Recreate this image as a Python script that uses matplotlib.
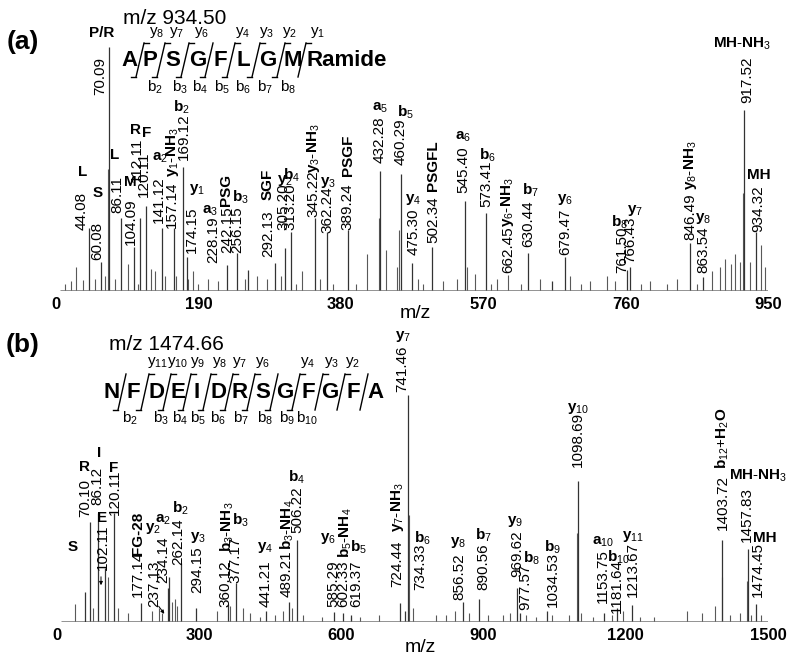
import re
import matplotlib
matplotlib.use('Agg')
import matplotlib.pyplot as plt

plt.rcParams['font.family'] = ['Liberation Sans', 'DejaVu Sans']
plt.rcParams['mathtext.fontset'] = 'custom'
plt.rcParams['mathtext.rm'] = 'Liberation Sans'
plt.rcParams['mathtext.bf'] = 'Liberation Sans:bold'
plt.rcParams['mathtext.it'] = 'Liberation Sans:italic'

# ---------------- panel (a): precursor m/z 934.50 ----------------
a_mz = [44.08, 60.08, 70.09, 86.11, 104.09, 112.11, 120.11, 141.12, 157.14, 169.12,
        174.15, 228.19, 242.15, 256.15, 292.13, 305.20, 313.20, 345.22, 362.24, 389.24,
        432.28, 460.29, 475.30, 502.34, 545.40, 573.41, 630.44, 662.45, 679.47, 761.50,
        766.43, 846.49, 863.54, 917.52, 934.32]
a_int = [26, 12, 100, 30, 18, 30, 35, 26, 26, 51,
         14, 10.5, 15.5, 8.6, 11.5, 17.6, 24, 30, 24, 25,
         49, 48, 11.5, 18, 37, 32, 15.5, 4, 14, 8.6,
         10, 19.7, 5.7, 74, 24]
a_ion = ['L', 'S', 'P/R', 'L', 'M', 'R', 'F', 'a2', 'y1-NH3', 'b2',
         'y1', 'a3', 'PSG', 'b3', 'SGF', 'y2', 'b4', 'y3-NH3', 'y3', 'PSGF',
         'a5', 'b5', 'y4', 'PSGFL', 'a6', 'b6', 'b7', 'y6-NH3', 'y6', 'b8',
         'y7', 'y8-NH3', 'y8', 'MH-NH3', 'MH']
a_minor_mz = [12, 20, 27, 36, 52, 66, 79, 96, 127, 132,
              145, 160, 176, 183, 203, 216, 252, 268, 281, 300,
              328, 352, 415, 440, 455, 483, 517, 535, 548, 559,
              588, 603, 646, 686, 712, 735, 746, 793, 829, 875,
              886, 893, 900, 906, 912, 926, 941, 946, 69, 458,
              916, 431, 110, 190, 320, 370, 400, 490, 580, 620,
              700, 780, 815, 855]
a_minor_int = [3, 4, 10, 4.5, 5, 6, 5, 11, 9, 8,
               6, 6, 5, 8, 5, 4, 5, 6, 5, 6,
               8, 5, 15, 17, 10, 5, 4, 5, 10, 7,
               5, 6.5, 5, 6, 4, 6, 4, 4, 5, 8,
               10, 13, 11, 15, 12, 12, 19, 10, 50, 25,
               40, 30, 3, 3, 3, 3, 3, 3, 3, 3,
               3, 3, 3, 3]
a_ticks = [0, 190, 380, 570, 760, 950]

# ---------------- panel (b): precursor m/z 1474.66 ----------------
b_mz = [70.10, 86.12, 102.11, 120.11, 177.14, 234.14, 237.13, 262.14, 294.15, 360.12,
        377.17, 441.21, 489.21, 506.22, 585.29, 602.33, 619.37, 724.44, 734.33, 741.46,
        856.52, 890.56, 969.62, 977.57, 1034.53, 1098.69, 1153.75, 1181.64, 1213.67, 1403.72,
        1457.83, 1474.45]
b_int = [44, 48, 24, 48, 8.4, 15, 20, 26, 6, 8,
         17, 5, 9, 36, 4.4, 4, 3, 8.4, 5, 100,
         8.8, 10, 15, 4, 5, 62, 4, 6, 7.5, 36,
         32, 8]
b_ion = ['R', 'I', 'E', 'F', 'FG-28', 'a2', 'y2', 'b2', 'y3', 'b3-NH3',
         'b3', 'y4', 'b3-NH4', 'b4', 'y6', 'b5-NH4', 'b5', 'y7-NH3', 'b6', 'y7',
         'y8', 'b7', 'y9', 'b8', 'b9', 'y10', 'a10', 'b10', 'y11', 'b12+H2O',
         'MH-NH3', 'MH']
b_imm_mz = [60.04]
b_imm_int = [13]
b_imm_ion = ['S']
b_minor_mz = [38, 75, 108, 129, 150, 200, 215, 222, 242, 249,
              253, 337, 365, 393, 407, 428, 460, 477, 496, 520,
              560, 620, 640, 680, 752, 800, 820, 840, 870, 910,
              940, 955, 990, 1010, 1045, 1080, 1105, 1130, 1170, 1195,
              1230, 1260, 1329, 1361, 1388, 1420, 1441, 1465, 1485, 742.5,
              1097, 1402, 1456.5]
b_minor_int = [8, 6, 20, 6, 4, 5, 6, 4, 9, 10,
               7, 5, 7, 6, 4, 2, 3, 5, 6, 3,
               2, 2, 2, 3, 6, 3, 3, 5, 4, 3,
               3, 4, 3, 2, 3, 3, 4, 2, 3, 5,
               2, 2, 5, 4, 7, 3, 4, 3, 3, 47,
               39, 20, 18]
b_ticks = [0, 300, 600, 900, 1200, 1500]

# sequences
seq_a = ['A', 'P', 'S', 'G', 'F', 'L', 'G', 'M', 'Ramide']
seq_a_y = ['y8', 'y7', 'y6', '', 'y4', 'y3', 'y2', 'y1']
seq_a_b = ['b2', 'b3', 'b4', 'b5', 'b6', 'b7', 'b8', '']
seq_b = ['N', 'F', 'D', 'E', 'I', 'D', 'R', 'S', 'G', 'F', 'G', 'F', 'A']
seq_b_y = ['', 'y11', 'y10', 'y9', 'y8', 'y7', 'y6', '', 'y4', 'y3', 'y2', '']
seq_b_b = ['b2', 'b3', 'b4', 'b5', 'b6', 'b7', 'b8', 'b9', 'b10', '', '', '']

# ---------------- label layout (pixel offsets from peak tops) ----------------
a_num_off = [(-7, -2), (-4, 2), (-8.5, -48), (-3.5, 5), (-3, 2), (-3, 36), (-2, 9), (-3, 5), (-2, 0), (1, 7),
             (5.5, 4), (-14, 2), (-10.5, 0), (-11, 17), (-7, 6), (-1.7, 18), (0, 2), (-1.7, 1), (0, -1), (0, 0),
             (0, 8), (0, 9), (1, 8), (0.5, 4), (-1.8, 8), (1, 6), (-0.5, 6), (-44.5, 8), (0, 2), (-4.8, -3),
             (0, 3.6), (0, 3), (0, 4), (3.3, 7), (2, 0)]
a_ion_off = [(-6, 56), (-3, 69), (-6.5, 14), (-5.5, 63), (-4, 65), (-5, 88), (1, 73), (-2, 70), (-1, 75), (-1, 59),
             (10.5, 67), (-17, 55), (-11.5, 63), (-8, 73), (-7, 79), (0, 68), (1, 57), (-1.7, 70), (0.5, 50), (0, 75),
             (0, 64), (4, 62), (1, 63), (0.5, 81), (-1.8, 64), (2, 58), (1.5, 63), (-44.5, 79), (0, 57), (-6.8, 48),
             (4.6, 56), (0, 78), (0, 59), (-1.7, 67), (3, 57)]
b_num_off = [(-5, 5), (0, 8), (-2.4, -2.5), (1, -2), (-3, 6), (-5, 5), (-15.4, -30), (-3, -2), (0.6, 15), (-2.7, -3),
             (-0.8, 0), (-1, 3.6), (-2, 4.6), (0, 7), (-1.4, 5), (0.5, 6), (5.5, 8), (-3.4, 16), (15, 20.6), (-6.5, 3),
             (-4, 2), (4, 9), (0.4, 11), (4.6, 3), (5.6, 3.6), (0, 14), (-1, 10), (0, -5), (0.7, 8), (0.6, 10),
             (-1, 7), (2, 7)]
b_ion_off = [(-6, 55), (1, 60), (-3.4, 49.5), (0, 45), (-3, 70), (-5, 68), (-16.4, 48.6), (-1, 55), (1.6, 71), (-0.7, 77),
             (4.2, 63), (-1, 63.6), (-2, 76.6), (0, 63), (-6.4, 74), (2.5, 80), (7.5, 68), (-2.4, 96), (17, 72.6), (-5.5, 58),
             (-5, 60), (4, 64), (-1.6, 66), (11.6, 55), (5.6, 63.6), (0, 73), (-1, 71), (1, 51), (0.7, 68), (0, 102),
             (10, 74), (9, 66)]
b_imm_off = [(-12.4, 45.5)]
rotated = {'y1-NH3', 'PSG', 'SGF', 'y3-NH3', 'PSGF', 'PSGFL', 'y6-NH3', 'y8-NH3',
           'FG-28', 'b3-NH3', 'b3-NH4', 'b5-NH4', 'y7-NH3', 'b12+H2O'}


def ion_tex(s):
    if re.fullmatch(r'[A-Z/]+|FG-28', s):
        return s
    out = ''
    for p in re.findall(r'[A-Za-z/]+|\d+|[-+]', s):
        if p.isdigit():
            out += r'_{\mathrm{%s}}' % p
        elif p in '-+':
            out += r'\text{%s}' % p
        else:
            out += r'\mathbf{%s}' % p
    return '$' + out + '$'


def draw_panel(ax, mz, inten, ions, num_off, ion_off, minor_mz, minor_int, xmax, ticks):
    ax.set_xlim(0, xmax)
    ax.set_ylim(0, 100)
    ax.vlines(minor_mz, 0, minor_int, color='0.35', lw=0.8)
    ax.vlines(mz, 0, inten, color='0.2', lw=0.9)
    ax.plot([xmax * 0.005, xmax], [0, 0], color='0.45', lw=1.8, solid_capstyle='butt')
    for m, h, ion, no, io in zip(mz, inten, ions, num_off, ion_off):
        ax.annotate(f'{m:.2f}', xy=(m, h), xytext=no, textcoords='offset pixels',
                    rotation=90, ha='center', va='bottom', fontsize=11)
        ax.annotate(ion_tex(ion), xy=(m, h), xytext=io, textcoords='offset pixels',
                    rotation=90 if ion in rotated else 0, ha='center', va='center',
                    fontsize=11, fontweight='bold')
    for s in ax.spines.values():
        s.set_visible(False)
    ax.set_yticks([])
    ax.set_xticks(ticks)
    ax.tick_params(axis='x', length=0, pad=4, labelsize=12)
    for lbl in ax.get_xticklabels():
        lbl.set_fontweight('bold')


fig = plt.figure(figsize=(8, 6.57), dpi=100)
ax1 = fig.add_axes([56 / 800, 1 - 291 / 657, 712 / 800, 244 / 657])
ax2 = fig.add_axes([57 / 800, 1 - 622 / 657, 711 / 800, 227 / 657])
ax1.patch.set_alpha(0)
ax2.patch.set_alpha(0)

draw_panel(ax1, a_mz, a_int, a_ion, a_num_off, a_ion_off, a_minor_mz, a_minor_int, 950, a_ticks)
draw_panel(ax2, b_mz, b_int, b_ion, b_num_off, b_ion_off, b_minor_mz, b_minor_int, 1500, b_ticks)
ax2.vlines(b_imm_mz, 0, b_imm_int, color='0.2', lw=0.9)
for m, h, ion, io in zip(b_imm_mz, b_imm_int, b_imm_ion, b_imm_off):
    ax2.annotate(ion, xy=(m, h), xytext=io, textcoords='offset pixels',
                 ha='center', va='center', fontsize=11, fontweight='bold')

# overlay in pixel coordinates for panel letters, titles and sequences
ov = fig.add_axes([0, 0, 1, 1])
ov.set_xlim(0, 800)
ov.set_ylim(657, 0)
ov.axis('off')
ov.patch.set_alpha(0)

ov.text(23, 42, '(a)', fontsize=19, fontweight='bold', ha='center', va='center')
ov.text(23, 345, '(b)', fontsize=19, fontweight='bold', ha='center', va='center')
ov.text(175, 18, 'm/z 934.50', fontsize=15, ha='center', va='center')
ov.text(166, 345, 'm/z 1474.66', fontsize=15, ha='center', va='center')
ov.text(415, 313, 'm/z', fontsize=14, ha='center', va='center')
ov.text(420, 648, 'm/z', fontsize=14, ha='center', va='center')

# small arrows in panel (b)
ov.annotate('', xy=(101, 588), xytext=(101, 574),
            arrowprops=dict(arrowstyle='-|>', lw=0.7, color='k', mutation_scale=5))
ov.annotate('', xy=(166, 616), xytext=(157, 604),
            arrowprops=dict(arrowstyle='-|>', lw=0.7, color='k', mutation_scale=5))


def draw_sequence(res, res_x, ylet, cuts, ylabs, ylab_x, blabs, blab_x, ytop, ybot, ylab_y, blab_y):
    for r, x in zip(res, res_x):
        if r == 'Ramide':
            ov.text(x, ylet, r, fontsize=16, fontweight='bold', ha='left', va='center')
        else:
            ov.text(x, ylet, r, fontsize=16, fontweight='bold', ha='center', va='center')
    for i, c in enumerate(cuts):
        ov.plot([c - 4, c + 4], [ybot, ytop], color='k', lw=1.0)
        if ylabs[i]:
            ov.plot([c + 4, c + 9], [ytop, ytop], color='k', lw=1.0)
        if blabs[i]:
            ov.plot([c - 9, c - 4], [ybot, ybot], color='k', lw=1.0)
    for lab, x in zip(ylabs, ylab_x):
        if lab:
            ov.text(x, ylab_y, r'$\mathrm{%s}_{\mathrm{%s}}$' % (lab[0], lab[1:]),
                    fontsize=11, ha='center', va='center')
    for lab, x in zip(blabs, blab_x):
        if lab:
            ov.text(x, blab_y, r'$\mathrm{%s}_{\mathrm{%s}}$' % (lab[0], lab[1:]),
                    fontsize=11, ha='center', va='center')


draw_sequence(seq_a, [130, 150, 173, 198, 220, 243, 268, 293, 307], 60,
              [140, 161, 185, 209, 231, 256, 281, 302],
              seq_a_y, [157, 177, 202, 0, 243, 267, 290, 318],
              seq_a_b, [155, 180, 200, 222, 243, 265, 288, 0],
              43, 77, 33, 87)
draw_sequence(seq_b, [112, 133, 157, 178, 197, 218, 240, 263, 285, 308, 330, 353, 375], 392,
              [122, 145, 167, 187, 207, 229, 251, 274, 296, 319, 341, 364],
              seq_b_y, [0, 158, 178, 198, 220, 240, 263, 0, 308, 332, 353, 0],
              seq_b_b, [130, 161, 180, 198, 218, 241, 265, 287, 307, 0, 0, 0],
              374, 410, 363, 418)

fig.savefig('out.png', dpi=100)
